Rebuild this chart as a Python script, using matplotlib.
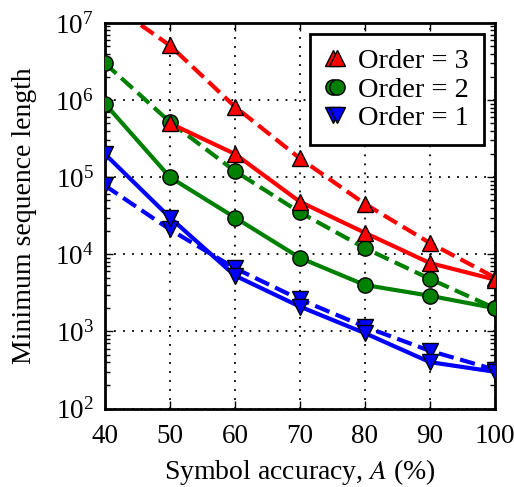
import numpy as np
import matplotlib
matplotlib.use("Agg")
import matplotlib.pyplot as plt

plt.rcParams['font.family'] = ['Liberation Serif', 'DejaVu Serif']
plt.rcParams['mathtext.fontset'] = 'stix'

x = [40, 50, 60, 70, 80, 90, 100]
order3_solid = [np.nan, 5.0e5, 2.0e5, 4.8e4, 1.9e4, 7.7e3, 4.7e3]
order3_dashed = [2.0e7, 5.1e6, 8.2e5, 1.75e5, 4.5e4, 1.4e4, 5.0e3]
order2_solid = [9.0e5, 1.0e5, 3.0e4, 9.0e3, 4.0e3, 2.9e3, 2.0e3]
order2_dashed = [3.0e6, 5.2e5, 1.2e5, 3.5e4, 1.2e4, 4.8e3, 2.0e3]
order1_solid = [2.0e5, 3.0e4, 5.3e3, 2.1e3, 9.5e2, 4.0e2, 3.0e2]
order1_dashed = [7.8e4, 2.1e4, 6.6e3, 2.6e3, 1.15e3, 5.6e2, 3.2e2]

labels = ["Order = 1", "Order = 2", "Order = 3"]
colors = ["#0000ff", "#008000", "#ff0000"]
markers = ["v", "o", "^"]
solids = [order1_solid, order2_solid, order3_solid]
dasheds = [order1_dashed, order2_dashed, order3_dashed]

fig = plt.figure(figsize=(5.14, 4.87), dpi=100)
ax = fig.add_axes([0.204, 0.161, 0.759, 0.792])

handles = []
for lab, c, m, s, d in zip(labels, colors, markers, solids, dasheds):
    ax.plot(x, d, color=c, lw=3, ls='--', zorder=2)
    ax.plot(x, s, color=c, lw=3, ls='-', zorder=2)
for lab, c, m, s, d in zip(labels, colors, markers, solids, dasheds):
    ax.plot(x, d, ls='none', marker=m, ms=11, mfc=c, mec='k', mew=1, zorder=3)
    ax.plot(x, s, ls='none', marker=m, ms=11, mfc=c, mec='k', mew=1, zorder=3)
    handles.append(plt.Line2D([], [], color=c, lw=3, marker=m, ms=11, mfc=c, mec='k', mew=1))

ax.set_yscale('log')
ax.set_xlim(40, 100)
ax.set_ylim(1e2, 1e7)
ax.set_xticks(x)
ax.grid(True, which='major', color='k', linestyle=(0, (1, 4)), linewidth=1.3)
ax.tick_params(which='both', direction='in', top=True, right=True, labelsize=19.5)
ax.tick_params(which='major', length=6, width=1)
ax.tick_params(which='minor', length=3.5, width=1)
ax.tick_params(axis='x', pad=11)
ax.tick_params(axis='y', pad=8)
for sp in ax.spines.values():
    sp.set_linewidth(2)

ax.set_xlabel(r"Symbol accuracy, $\mathit{A}$ (%)", fontsize=20, labelpad=6)
ax.set_ylabel("Minimum sequence length", fontsize=20, labelpad=13)

leg = ax.legend(handles[::-1], labels[::-1], loc='upper right', numpoints=2,
                handlelength=0.75, handletextpad=0.45, labelspacing=0.08,
                borderpad=0.5, fontsize=20.5, fancybox=False, framealpha=1,
                edgecolor='k', borderaxespad=0.4)
leg.get_frame().set_linewidth(2)

fig.savefig("out.png", dpi=100)
